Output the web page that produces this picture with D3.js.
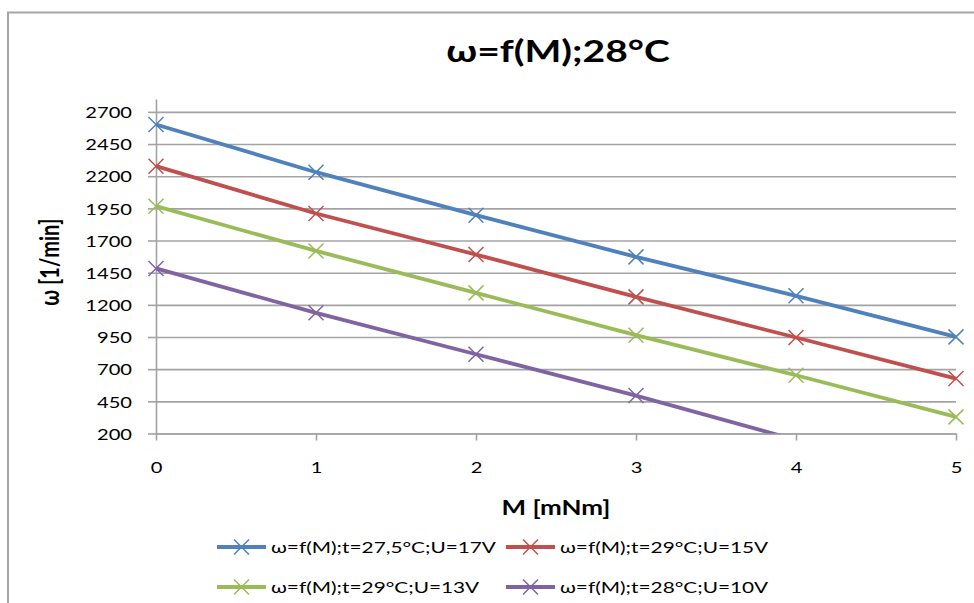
<!DOCTYPE html>
<html>
<head>
<meta charset="utf-8">
<script src="https://cdn.jsdelivr.net/npm/d3@7"></script>
<style>
  html, body { margin: 0; padding: 0; background: #ffffff; }
  svg { display: block; font-family: Lato, "Open Sans", "Liberation Sans", sans-serif; }
</style>
</head>
<body>
<svg id="chart" width="974" height="603"></svg>
<script>
// ---------- data ----------
const categories = [0, 1, 2, 3, 4, 5];
const yTicks = [200, 450, 700, 950, 1200, 1450, 1700, 1950, 2200, 2450, 2700];
const seriesNames = [
  "ω=f(M);t=27,5°C;U=17V",
  "ω=f(M);t=29°C;U=15V",
  "ω=f(M);t=29°C;U=13V",
  "ω=f(M);t=28°C;U=10V"
];
const values17V = [2602, 2231, 1897, 1573, 1270, 951];
const values15V = [2278, 1910, 1591, 1262, 946, 627];
const values13V = [1967, 1619, 1293, 964, 653, 329];
const values10V = [1483, 1138, 816, 495, 150];
const seriesColors = ["#4F81BD", "#C0504D", "#9BBB59", "#8064A2"];
const titleText = "ω=f(M);28°C";
const xTitle = "M [mNm]";
const yTitle = "ω [1/min]";

// ---------- layout ----------
const SX = 1.3; // horizontal stretch of the reference text
const svg = d3.select("#chart");
const plot = { left: 156, right: 956, top: 99, bottom: 433.5 };
const x = d3.scaleLinear().domain([0, 5]).range([plot.left, plot.right]);
const y = d3.scaleLinear().domain([200, 2800]).range([plot.bottom, plot.top]);
const grid = "#a3a3a3";

// outer frame
svg.append("rect").attr("x", 8).attr("y", 12.5).attr("width", 1000).attr("height", 640)
  .attr("fill", "#fff").attr("stroke", "#a6a6a6").attr("stroke-width", 2);

function stretchedText(g, tx, ty, str, opts) {
  return g.append("text")
    .attr("transform", `translate(${tx},${ty}) scale(${SX},1)` + (opts.rotate ? ` rotate(${opts.rotate})` : ""))
    .attr("text-anchor", opts.anchor || "start")
    .attr("font-size", opts.size)
    .attr("font-weight", opts.weight || "normal")
    .attr("fill", opts.fill || "#000")
    .text(str);
}

// title
stretchedText(svg, 558, 62, titleText, { anchor: "middle", size: 30, weight: "bold" });

// gridlines
svg.append("g")
  .attr("transform", `translate(${plot.left},0)`)
  .call(d3.axisLeft(y).tickValues(yTicks).tickSize(-(plot.right - plot.left)).tickFormat(""))
  .call(g => g.select(".domain").remove())
  .call(g => g.selectAll("line").attr("stroke", grid).attr("stroke-width", 1.6));

// y axis
const yAxis = svg.append("g")
  .attr("transform", `translate(${plot.left},0)`)
  .call(d3.axisLeft(y).tickValues(yTicks).tickFormat(d3.format("d")).tickSize(8).tickSizeOuter(0));
yAxis.select(".domain").attr("stroke", grid).attr("stroke-width", 1.6);
yAxis.selectAll(".tick line").attr("stroke", grid).attr("stroke-width", 1.6);
yAxis.selectAll(".tick text")
  .attr("x", null).attr("dy", null)
  .attr("transform", `translate(-24,5.8) scale(${SX},1)`)
  .attr("text-anchor", "end")
  .attr("font-size", 15.5)
  .attr("font-family", "Lato, 'Open Sans', sans-serif")
  .attr("fill", "#000");

// x axis
const xAxis = svg.append("g")
  .attr("transform", `translate(0,${plot.bottom})`)
  .call(d3.axisBottom(x).tickValues(categories).tickFormat(d3.format("d")).tickSize(7).tickSizeOuter(0));
xAxis.select(".domain").attr("stroke", grid).attr("stroke-width", 1.6);
xAxis.selectAll(".tick line").attr("stroke", grid).attr("stroke-width", 1.6);
xAxis.selectAll(".tick text")
  .attr("y", null).attr("dy", null)
  .attr("transform", `translate(0,39) scale(${SX},1)`)
  .attr("text-anchor", "middle")
  .attr("font-size", 15.5)
  .attr("font-family", "Lato, 'Open Sans', sans-serif")
  .attr("fill", "#000");

// axis titles
stretchedText(svg, 556, 515, xTitle, { anchor: "middle", size: 20, weight: "bold" });
stretchedText(svg, 59, 262, yTitle, { anchor: "middle", size: 20, weight: "bold", rotate: -90 });

// clip
svg.append("clipPath").attr("id", "clip")
  .append("rect").attr("x", plot.left - 12).attr("y", plot.top - 12)
  .attr("width", plot.right - plot.left + 24).attr("height", plot.bottom - plot.top + 12);

const allSeries = [values17V, values15V, values13V, values10V].map((vals, i) => ({
  name: seriesNames[i], color: seriesColors[i],
  points: vals.map((v, j) => ({ m: categories[j], w: v }))
}));

const line = d3.line().x(d => x(d.m)).y(d => y(d.w));
const series = svg.append("g").attr("clip-path", "url(#clip)");
const M = 7.5;
allSeries.forEach(s => {
  series.append("path").datum(s.points)
    .attr("d", line).attr("fill", "none")
    .attr("stroke", s.color).attr("stroke-width", 3.8).attr("stroke-linejoin", "round");
  series.selectAll(null).data(s.points.filter(p => p.w >= 200)).enter()
    .append("path")
    .attr("d", p => `M${x(p.m) - M},${y(p.w) - M}L${x(p.m) + M},${y(p.w) + M}M${x(p.m) - M},${y(p.w) + M}L${x(p.m) + M},${y(p.w) - M}`)
    .attr("stroke", s.color).attr("stroke-width", 1.5).attr("fill", "none");
});

// legend
const legendCols = [217, 506];
const legendRows = [547, 587];
allSeries.forEach((s, i) => {
  const lx = legendCols[i % 2], ly = legendRows[Math.floor(i / 2)];
  const g = svg.append("g");
  g.append("line").attr("x1", lx).attr("x2", lx + 49).attr("y1", ly).attr("y2", ly)
    .attr("stroke", s.color).attr("stroke-width", 3.8);
  const cx = lx + 24.5;
  g.append("path")
    .attr("d", `M${cx - M},${ly - M}L${cx + M},${ly + M}M${cx - M},${ly + M}L${cx + M},${ly - M}`)
    .attr("stroke", s.color).attr("stroke-width", 1.5);
  stretchedText(g, lx + 54, ly + 6, s.name, { anchor: "start", size: 16 });
});
</script>
</body>
</html>
